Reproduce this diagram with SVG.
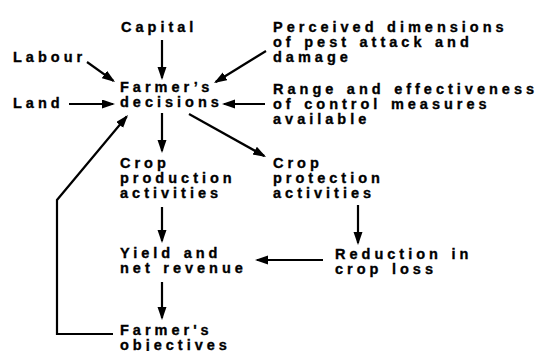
<svg xmlns="http://www.w3.org/2000/svg" width="539" height="351" viewBox="0 0 539 351">
<style>
text{font-family:"Liberation Sans",Arial,sans-serif;font-weight:bold;font-size:14.5px;letter-spacing:4px;word-spacing:1.5px;fill:#000;stroke:#000;stroke-width:0.35px}
.c{fill:none;stroke:#000;stroke-width:2.2}
</style>
<defs>
<marker id="ah" markerUnits="userSpaceOnUse" markerWidth="14" markerHeight="10" refX="11" refY="4.5" orient="auto">
<path d="M0,0 L13,4.5 L0,9 Z" fill="#000"/>
</marker>
</defs>
<rect width="539" height="351" fill="#fff"/>
<g id="capital"><text x="121" y="31.5">Capital</text></g>
<g id="labour"><text x="13" y="61.5">Labour</text></g>
<g id="land"><text x="13" y="107.5">Land</text></g>
<g id="perceived"><text x="273" y="31.5">Perceived dimensions</text><text x="273" y="46.5">of pest attack and</text><text x="273" y="61.5">damage</text></g>
<g id="range"><text x="273" y="93.5">Range and effectiveness</text><text x="273" y="108.5">of control measures</text><text x="273" y="123.5">available</text></g>
<g id="decisions"><text x="120" y="92">Farmer’s</text><text x="120" y="107">decisions</text></g>
<g id="production"><text x="120" y="168">Crop</text><text x="120" y="183">production</text><text x="120" y="198">activities</text></g>
<g id="protection"><text x="273" y="168">Crop</text><text x="273" y="183">protection</text><text x="273" y="198">activities</text></g>
<g id="yield"><text x="120" y="258">Yield and</text><text x="120" y="273">net revenue</text></g>
<g id="reduction"><text x="335" y="258.5">Reduction in</text><text x="335" y="273.5">crop loss</text></g>
<g id="objectives"><text x="120" y="335">Farmer's</text><text x="120" y="349.5">objectives</text></g>
<g id="connectors">
<line class="c" x1="162" y1="40" x2="162" y2="78" marker-end="url(#ah)"/>
<line class="c" x1="87" y1="62" x2="113.4" y2="80.8" marker-end="url(#ah)"/>
<line class="c" x1="69" y1="104" x2="113" y2="104" marker-end="url(#ah)"/>
<line class="c" x1="266" y1="51" x2="215.7" y2="82" marker-end="url(#ah)"/>
<line class="c" x1="265" y1="104" x2="224" y2="104" marker-end="url(#ah)"/>
<line class="c" x1="162" y1="113" x2="162" y2="151" marker-end="url(#ah)"/>
<line class="c" x1="189" y1="114" x2="264.3" y2="156" marker-end="url(#ah)"/>
<line class="c" x1="162" y1="207" x2="162" y2="241" marker-end="url(#ah)"/>
<line class="c" x1="358" y1="205" x2="358" y2="243" marker-end="url(#ah)"/>
<line class="c" x1="323" y1="260" x2="257" y2="260" marker-end="url(#ah)"/>
<line class="c" x1="162" y1="282" x2="162" y2="318" marker-end="url(#ah)"/>
<path class="c" d="M113,334 L57,334 L57,200 L126.7,116.5" marker-end="url(#ah)"/>
</g>
</svg>
